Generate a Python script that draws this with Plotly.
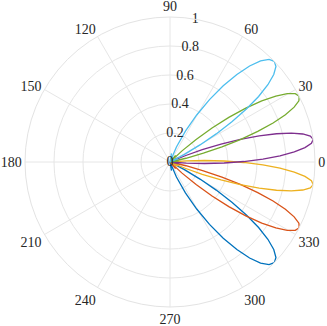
import plotly.graph_objects as go

# Beam patterns (angle in degrees, normalised magnitude)
theta_m44 = [-86.0, -80.0, -70.86, -66.88, -63.47, -60.42, -57.64, -55.05, -52.63, -50.33,
             -48.14, -46.03, -44.00, -42.05, -40.14, -38.29, -36.49, -34.73, -33.01, -31.31,
             -29.65, -28.01, -26.40, -22.62, -18.95]
r_m44 = [0, 0.06, 0, 0.113, 0.238, 0.373, 0.509, 0.641, 0.760, 0.860, 0.936, 0.984, 1.0,
         0.984, 0.936, 0.860, 0.760, 0.641, 0.509, 0.373, 0.238, 0.113, 0, 0.06, 0]

theta_m27 = [-55.48, -49.82, -44.74, -42.77, -40.84, -38.97, -37.16, -35.38, -33.64, -31.94,
             -30.26, -28.62, -27.00, -25.40, -23.83, -22.27, -20.73, -19.21, -17.70, -16.20,
             -14.71, -13.24, -11.77, -8.28, -4.82]
r_m27 = [0, 0.06, 0, 0.113, 0.238, 0.373, 0.509, 0.641, 0.760, 0.860, 0.936, 0.984, 1.0,
         0.984, 0.936, 0.860, 0.760, 0.641, 0.509, 0.373, 0.238, 0.113, 0, 0.06, 0]

theta_m9 = [-31.76, -27.80, -23.98, -22.42, -20.88, -19.35, -17.84, -16.34, -14.86, -13.38,
            -11.91, -10.45, -9.00, -7.55, -6.11, -4.67, -3.23, -1.80, -0.37, 1.07,
            2.50, 3.93, 5.37, 8.84, 12.33]
r_m9 = [0, 0.06, 0, 0.113, 0.238, 0.373, 0.509, 0.641, 0.760, 0.860, 0.936, 0.984, 1.0,
        0.984, 0.936, 0.860, 0.760, 0.641, 0.509, 0.373, 0.238, 0.113, 0, 0.06, 0]

theta_p9 = [-12.33, -8.84, -5.37, -3.93, -2.50, -1.07, 0.37, 1.80, 3.23, 4.67,
            6.11, 7.55, 9.00, 10.45, 11.91, 13.38, 14.86, 16.34, 17.84, 19.35,
            20.88, 22.42, 23.98, 27.80, 31.76]
r_p9 = [0, 0.06, 0, 0.113, 0.238, 0.373, 0.509, 0.641, 0.760, 0.860, 0.936, 0.984, 1.0,
        0.984, 0.936, 0.860, 0.760, 0.641, 0.509, 0.373, 0.238, 0.113, 0, 0.06, 0]

theta_p27 = [4.82, 8.28, 11.77, 13.24, 14.71, 16.20, 17.70, 19.21, 20.73, 22.27,
             23.83, 25.40, 27.00, 28.62, 30.26, 31.94, 33.64, 35.38, 37.16, 38.97,
             40.84, 42.77, 44.74, 49.82, 55.48]
r_p27 = [0, 0.06, 0, 0.113, 0.238, 0.373, 0.509, 0.641, 0.760, 0.860, 0.936, 0.984, 1.0,
         0.984, 0.936, 0.860, 0.760, 0.641, 0.509, 0.373, 0.238, 0.113, 0, 0.06, 0]

theta_p44 = [18.95, 22.62, 26.40, 28.01, 29.65, 31.31, 33.01, 34.73, 36.49, 38.29,
             40.14, 42.05, 44.00, 46.03, 48.14, 50.33, 52.63, 55.05, 57.64, 60.42,
             63.47, 66.88, 70.86, 80.0, 86.0]
r_p44 = [0, 0.06, 0, 0.113, 0.238, 0.373, 0.509, 0.641, 0.760, 0.860, 0.936, 0.984, 1.0,
         0.984, 0.936, 0.860, 0.760, 0.641, 0.509, 0.373, 0.238, 0.113, 0, 0.06, 0]

angular_ticks = [0, 30, 60, 90, 120, 150, 180, 210, 240, 270, 300, 330]
radial_ticks = [0, 0.2, 0.4, 0.6, 0.8, 1]
radial_labels = ["0", "0.2", "0.4", "0.6", "0.8", "1"]
RADIAL_LABEL_ANGLE = 80

series = [
    (theta_m44, r_m44, "#0072BD"),
    (theta_m27, r_m27, "#D95319"),
    (theta_m9, r_m9, "#EDB120"),
    (theta_p9, r_p9, "#7E2F8E"),
    (theta_p27, r_p27, "#77AC30"),
    (theta_p44, r_p44, "#4DBEEE"),
]

font = dict(family="Liberation Serif", size=14, color="#262626")

fig = go.Figure()
for th, r, col in series:
    fig.add_trace(go.Scatterpolar(theta=th, r=r, mode="lines",
                                  line=dict(color=col, width=1.3),
                                  showlegend=False, hoverinfo="skip"))

# radial tick labels, centred on the 80-degree radial line (MATLAB style)
fig.add_trace(go.Scatterpolar(theta=[RADIAL_LABEL_ANGLE] * len(radial_ticks), r=radial_ticks,
                              mode="text", text=radial_labels, textposition="middle center",
                              textfont=font, cliponaxis=False,
                              showlegend=False, hoverinfo="skip"))

fig.update_layout(
    width=327, height=326,
    margin=dict(l=25, r=12, t=17, b=19),
    paper_bgcolor="white",
    polar=dict(
        bgcolor="white",
        angularaxis=dict(direction="counterclockwise", rotation=0,
                         tickmode="array", tickvals=angular_ticks,
                         ticktext=[str(t) for t in angular_ticks],
                         ticks="", showline=True, linecolor="#e3e3e3", linewidth=1,
                         gridcolor="#e6e6e6", gridwidth=1, tickfont=font),
        radialaxis=dict(range=[0, 1], angle=RADIAL_LABEL_ANGLE,
                        tickmode="array", tickvals=radial_ticks,
                        showticklabels=False,
                        ticks="", showline=False, gridcolor="#e6e6e6", gridwidth=1),
    ),
)
fig.write_html("out.html", config={"displayModeBar": False},
               post_script="document.body.style.margin='0';")
